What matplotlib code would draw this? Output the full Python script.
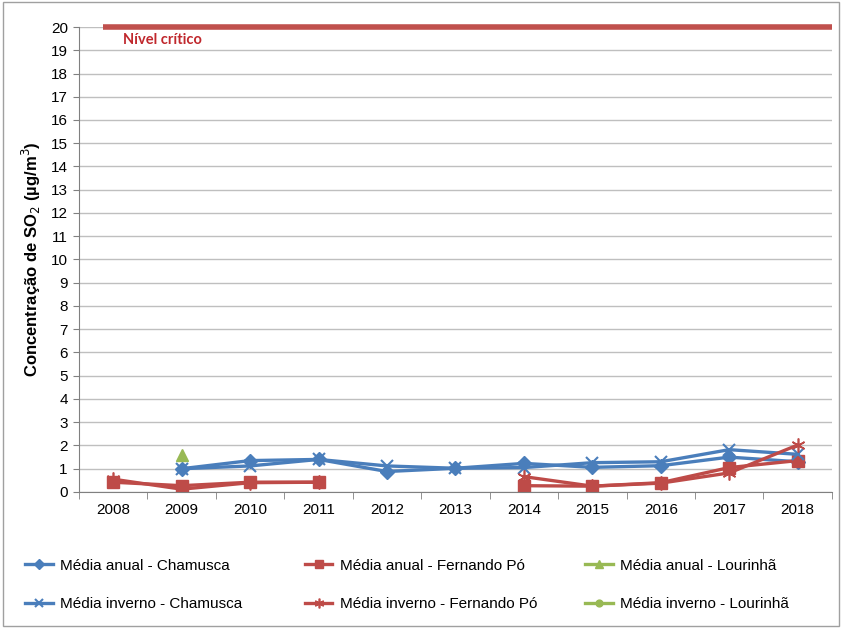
import numpy as np
import matplotlib
matplotlib.use('Agg')
import matplotlib.pyplot as plt

plt.rcParams['font.family'] = ['Liberation Sans', 'DejaVu Sans']

anos = ['2008', '2009', '2010', '2011', '2012', '2013', '2014', '2015', '2016', '2017', '2018']
nan = np.nan

# valores (ug/m3)
anual_chamusca = [nan, 1.0, 1.35, 1.4, 0.88, 1.02, 1.23, 1.06, 1.13, 1.5, 1.3]
inverno_chamusca = [nan, 1.0, 1.12, 1.4, 1.12, 1.02, 1.05, 1.26, 1.3, 1.82, 1.62]
anual_fernando = [0.42, 0.27, 0.42, 0.42, nan, nan, 0.27, 0.25, 0.4, 1.05, 1.35]
inverno_fernando = [0.55, 0.12, 0.4, 0.42, nan, nan, 0.66, 0.25, 0.38, 0.82, 2.02]
anual_lourinha = [nan, 1.58, nan, nan, nan, nan, nan, nan, nan, nan, nan]
inverno_lourinha = [nan] * 11
nivel_critico = 20

azul = '#4A7EBB'
vermelho = '#BE4B48'
verde = '#98B954'

fig = plt.figure(figsize=(8.42, 6.28), dpi=100)
ax = fig.add_axes([0.0938, 0.2166, 0.8942, 0.7404])
x = np.arange(len(anos))

l1, = ax.plot(x, anual_chamusca, color=azul, lw=2.4, marker='D', ms=7)
l2, = ax.plot(x, anual_fernando, color=vermelho, lw=2.4, marker='s', ms=8)
l3, = ax.plot(x, anual_lourinha, color=verde, lw=2.4, marker='^', ms=8)
l4, = ax.plot(x, inverno_chamusca, color=azul, lw=2.4, marker='x', ms=9, mew=1.5)
l5, = ax.plot(x, inverno_fernando, color=vermelho, lw=2.4, marker=(6, 2, 0), ms=10, mew=1.2)
l6, = ax.plot(x, inverno_lourinha, color=verde, lw=2.4, marker='o', ms=7)

# linha do nivel critico
ax.plot([-0.15, 10.5], [nivel_critico, nivel_critico], color='#C0504D', lw=4,
        solid_capstyle='butt', zorder=5, clip_on=False)
ax.text(0.15, 19.42, 'Nível crítico', color='#C0282D', fontsize=10.5, fontweight='bold',
        va='center', ha='left', family=['Lato', 'DejaVu Sans'])

ax.set_xlim(-0.5, 10.5)
ax.set_ylim(0, 20)
ax.set_yticks(range(0, 21))
ax.set_xticks(x)
ax.set_xticklabels(anos)
ax.set_xticks(np.arange(-0.5, 11, 1), minor=True)
ax.tick_params(axis='x', which='major', length=0, pad=8, labelsize=11)
ax.tick_params(axis='x', which='minor', length=5, color='#808080')
ax.tick_params(axis='y', length=4, color='#808080', labelsize=11, pad=4)
ax.grid(axis='y', color='#BFBFBF', lw=1)
ax.set_axisbelow(True)
for s in ['top', 'right']:
    ax.spines[s].set_visible(False)
ax.spines['left'].set_color('#808080')
ax.spines['bottom'].set_color('#808080')

ax.set_ylabel('Concentração de SO$_2$ (µg/m$^3$)', fontsize=12, fontweight='bold', labelpad=6)

# legenda em 3 colunas, preenchida por linhas
colunas = [
    ([l1, l4], ['Média anual - Chamusca', 'Média inverno - Chamusca'], 0.030),
    ([l2, l5], ['Média anual - Fernando Pó', 'Média inverno - Fernando Pó'], 0.362),
    ([l3, l6], ['Média anual - Lourinhã', 'Média inverno - Lourinhã'], 0.695),
]
for handles, labels, xpos in colunas:
    leg = fig.legend(handles, labels, loc='center left', bbox_to_anchor=(xpos, 1 - 585 / 628),
                     frameon=False, fontsize=11, handlelength=1.8, handletextpad=0.5,
                     labelspacing=1.6, borderaxespad=0, borderpad=0, markerscale=0.7)

fig.patches.append(plt.Rectangle((0.003, 0.003), 0.994, 0.994, transform=fig.transFigure,
                                 fill=False, edgecolor='#A0A0A0', lw=1))

fig.savefig('out.png', dpi=100)
